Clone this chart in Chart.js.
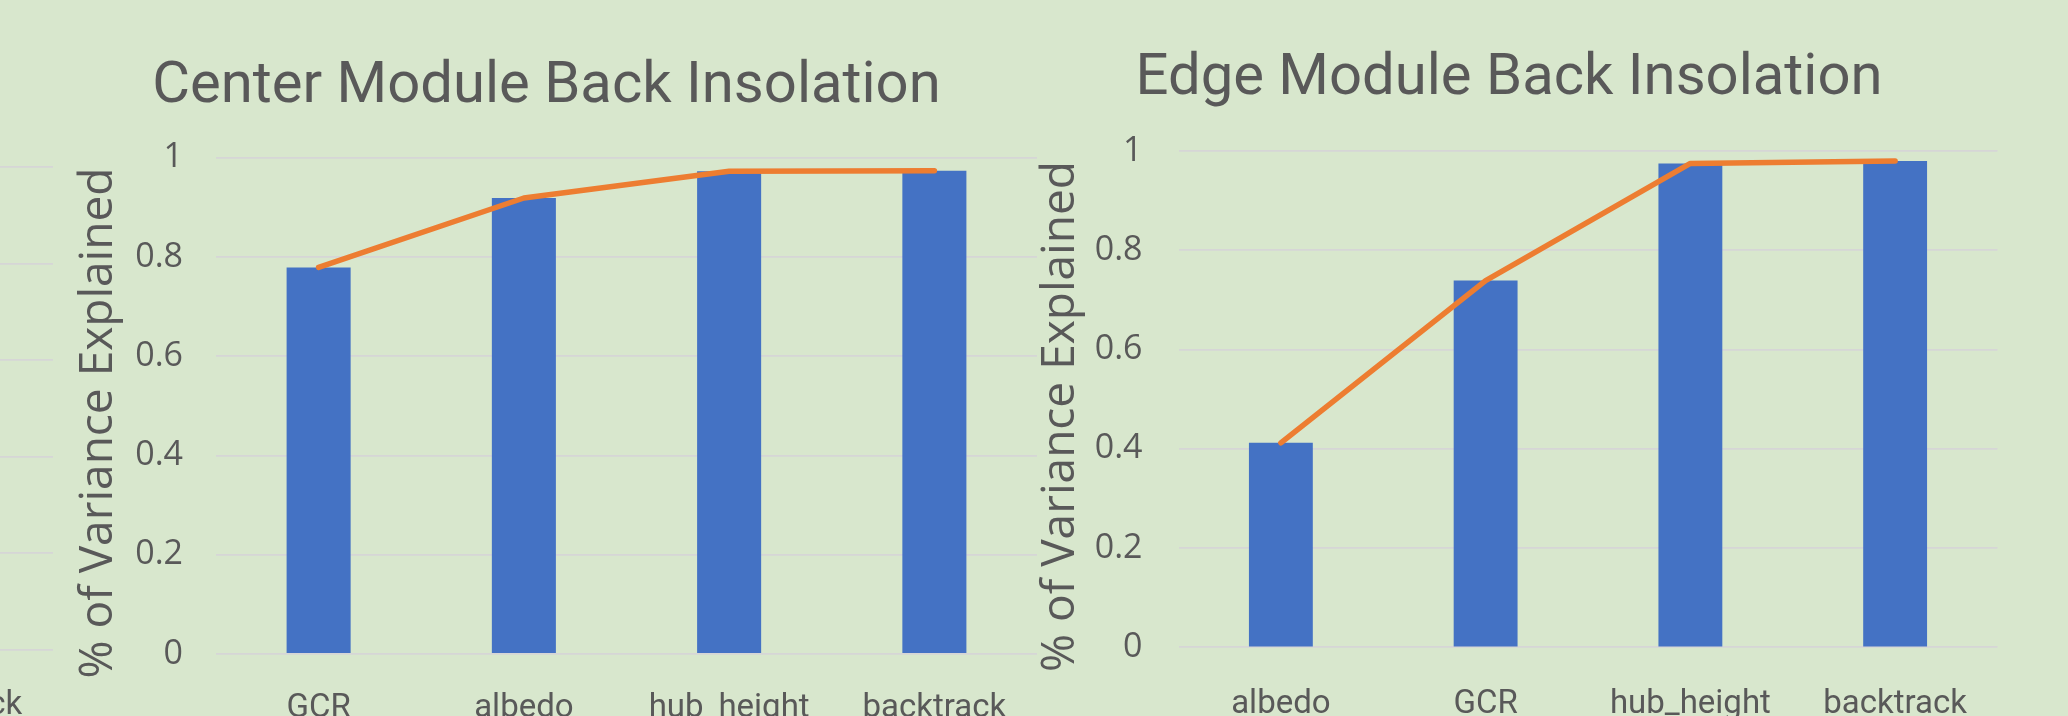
<!DOCTYPE html>
<html>
<head>
<meta charset="utf-8">
<title>Module Back Insolation – Variance Explained</title>
<script src="https://cdn.jsdelivr.net/npm/chart.js@4.4.0/dist/chart.umd.min.js"></script>
<style>
  html, body {
    margin: 0;
    padding: 0;
    width: 2068px;
    height: 716px;
    overflow: hidden;
    background: #D8E7CD;
  }
  canvas {
    position: absolute;
    top: 0;
  }
  #leftChart   { left: -200px; }
  #centerChart { left: 0; }
  #edgeChart   { left: 1000px; }
</style>
</head>
<body>
<canvas id="leftChart" width="253" height="760"></canvas>
<canvas id="centerChart" width="1050" height="760"></canvas>
<canvas id="edgeChart" width="1068" height="760"></canvas>

<script>
// ---- data ----
const yTicks      = [0, 0.2, 0.4, 0.6, 0.8, 1];
const yTickLabels = ['0', '0.2', '0.4', '0.6', '0.8', '1'];

const centerCategories = ['GCR', 'albedo', 'hub_height', 'backtrack'];
const centerVariance   = [0.779, 0.919, 0.973, 0.974];
const centerCumulative = [0.779, 0.919, 0.973, 0.974];

const edgeCategories = ['albedo', 'GCR', 'hub_height', 'backtrack'];
const edgeVariance   = [0.412, 0.739, 0.975, 0.980];
const edgeCumulative = [0.412, 0.739, 0.975, 0.980];

// neighbouring panel on the left: only its last category is in view
const leftCategories = ['backtrack'];

const yAxisTitle = '% of Variance Explained';

// ---- styling ----
const TEXT = '#595959';
const GRID = '#D6D6D6';
const BAR  = '#4472C4';
const LINE = '#ED7D31';

// rotated value-axis caption, placed by its baseline and centre
const sideTitle = {
  id: 'sideTitle',
  afterDraw(chart, args, opts) {
    if (!opts || !opts.text) return;
    const ctx = chart.ctx;
    ctx.save();
    ctx.translate(opts.x, opts.y);
    ctx.rotate(-Math.PI / 2);
    ctx.font = opts.font;
    ctx.fillStyle = opts.color;
    ctx.textAlign = 'center';
    ctx.textBaseline = 'alphabetic';
    ctx.fillText(opts.text, 0, 0);
    ctx.restore();
  }
};

function datasetsFor(bars, line) {
  return [
    {
      type: 'line',
      data: line,
      borderColor: LINE,
      borderWidth: 5.5,
      borderCapStyle: 'round',
      borderJoinStyle: 'round',
      pointRadius: 0,
      tension: 0,
      fill: false,
      order: 0
    },
    {
      type: 'bar',
      data: bars,
      backgroundColor: BAR,
      borderWidth: 0,
      barPercentage: 0.312,
      categoryPercentage: 1,
      order: 1
    }
  ];
}

function panel(id, cfg) {
  return new Chart(document.getElementById(id), {
    type: 'bar',
    data: {
      labels: cfg.labels,
      datasets: cfg.datasets
    },
    options: {
      responsive: false,
      animation: false,
      events: [],
      layout: { padding: cfg.padding },
      plugins: {
        legend: { display: false },
        tooltip: { enabled: false },
        title: cfg.title ? {
          display: true,
          text: cfg.title,
          color: TEXT,
          font: { family: 'Roboto', weight: 400, size: 58, lineHeight: 1.2 },
          padding: cfg.titlePadding
        } : { display: false },
        sideTitle: cfg.sideTitle || {}
      },
      scales: {
        x: {
          type: 'category',
          offset: true,
          grid: { display: false },
          border: { display: false },
          ticks: {
            color: TEXT,
            font: { family: 'Roboto', size: 33 },
            padding: cfg.xPad,
            maxRotation: 0,
            autoSkip: false
          },
          afterFit: s => { s.height = cfg.xHeight; }
        },
        y: {
          min: 0,
          max: 1,
          grid: { color: GRID, lineWidth: 1.8, drawTicks: false },
          border: { display: false },
          ticks: {
            display: cfg.showTicks,
            color: TEXT,
            font: { family: 'Open Sans', size: 34 },
            padding: cfg.yPad,
            callback: (v, i) => yTickLabels[i]
          },
          afterBuildTicks: s => { s.ticks = yTicks.map(v => ({ value: v })); },
          afterFit: s => { s.width = cfg.yWidth; }
        }
      }
    },
    plugins: [sideTitle]
  });
}

panel('leftChart', {
  labels: leftCategories,
  datasets: [],
  padding: { left: 47.7, right: 0, top: 166.8, bottom: 0 },
  xPad: 28,
  xHeight: 110,
  yWidth: 0,
  showTicks: false,
  yPad: 0
});

panel('centerChart', {
  labels: centerCategories,
  datasets: datasetsFor(centerVariance, centerCumulative),
  title: 'Center Module Back Insolation',
  titlePadding: { top: 52.7, bottom: 35.5 },
  padding: { left: 56, right: 13, top: 0, bottom: 0 },
  xPad: 27,
  xHeight: 106,
  yWidth: 160,
  showTicks: true,
  yPad: 33,
  sideTitle: { text: yAxisTitle, x: 111.5, y: 423, font: '46px "Open Sans"', color: TEXT }
});

panel('edgeChart', {
  labels: edgeCategories,
  datasets: datasetsFor(edgeVariance, edgeCumulative),
  title: 'Edge Module Back Insolation',
  titlePadding: { top: 44.2, bottom: 37.2 },
  padding: { left: 20.5, right: 70.5, top: 0, bottom: 0 },
  xPad: 30,
  xHeight: 112.7,
  yWidth: 158,
  showTicks: true,
  yPad: 36,
  sideTitle: { text: yAxisTitle, x: 74, y: 416.5, font: '46px "Open Sans"', color: TEXT }
});
</script>
</body>
</html>
